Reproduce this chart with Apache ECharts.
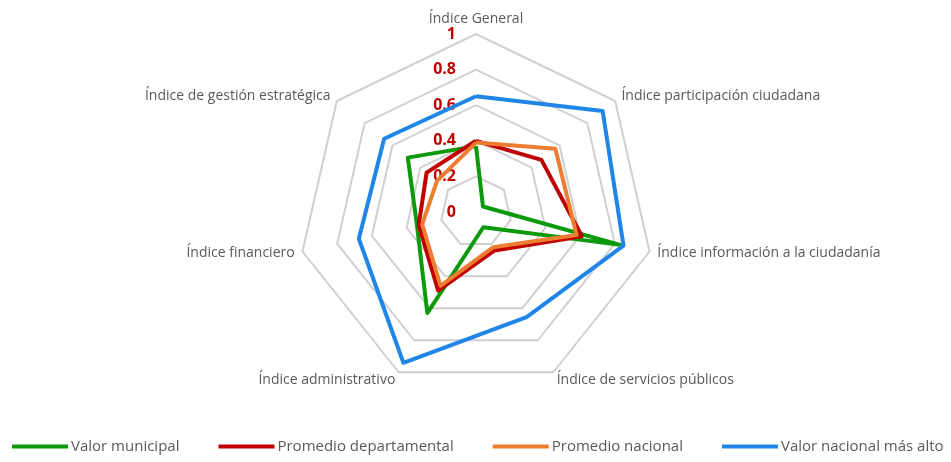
<!DOCTYPE html>
<html>
<head>
<meta charset="utf-8">
<script src="https://cdn.jsdelivr.net/npm/echarts@6/dist/echarts.min.js"></script>
<style>
  html, body { margin: 0; padding: 0; background: #fff; }
  #chart { width: 951px; height: 462px; }
</style>
</head>
<body>
<div id="chart"></div>
<script>
// indicators in ECharts order (counterclockwise from the top)
const indicators = [
  "Índice General",
  "Índice de gestión estratégica",
  "Índice financiero",
  "Índice administrativo",
  "Índice de servicios públicos",
  "Índice información a la ciudadanía",
  "Índice participación ciudadana",
];
const seriesNames = ["Valor municipal", "Promedio departamental", "Promedio nacional", "Valor nacional más alto"];
const valorMunicipal = [0.37, 0.49, 0.34, 0.63, 0.095, 0.83, 0.05];
const promedioDepartamental = [0.40, 0.355, 0.33, 0.49, 0.24, 0.61, 0.47];
const promedioNacional = [0.39, 0.28, 0.31, 0.46, 0.22, 0.58, 0.57];
const valorMasAlto = [0.65, 0.66, 0.675, 0.94, 0.655, 0.85, 0.91];
const colors = ["#0c9a0c", "#c00000", "#ed7d31", "#1f86e8"];

const chart = echarts.init(document.getElementById("chart"));
const values = [valorMunicipal, promedioDepartamental, promedioNacional, valorMasAlto];

chart.setOption({
  animation: false,
  color: colors,
  textStyle: { fontFamily: "Open Sans" },
  legend: {
    data: seriesNames,
    left: 7,
    bottom: 3,
    icon: "rect",
    itemWidth: 56,
    itemHeight: 4,
    itemGap: 39,
    textStyle: { color: "#595959", fontSize: 15, padding: [0, 0, 0, -2] },
  },
  radar: {
    center: [476, 212],
    radius: 178,
    shape: "polygon",
    splitNumber: 5,
    indicator: indicators.map((name, i) => ({
      name,
      min: 0,
      max: 1,
      axisLabel: { show: i === 0 },
    })),
    nameGap: 8,
    axisName: { color: "#595959", fontSize: 14 },
    axisLine: { show: false },
    axisTick: { show: false },
    splitArea: { show: false },
    splitLine: { lineStyle: { color: "#d0d0d0", width: 2 } },
    axisLabel: {
      show: false,
      color: "#c00000",
      fontWeight: "bold",
      fontSize: 16,
      margin: 20,
      formatter: (v) => String(Math.round(v * 10) / 10),
    },
  },
  series: [
    {
      type: "radar",
      symbol: "none",
      lineStyle: { width: 4 },
      data: seriesNames.map((name, i) => ({
        name,
        value: values[i],
        lineStyle: { color: colors[i], width: 4 },
        itemStyle: { color: colors[i] },
      })),
    },
  ],
});
</script>
</body>
</html>
